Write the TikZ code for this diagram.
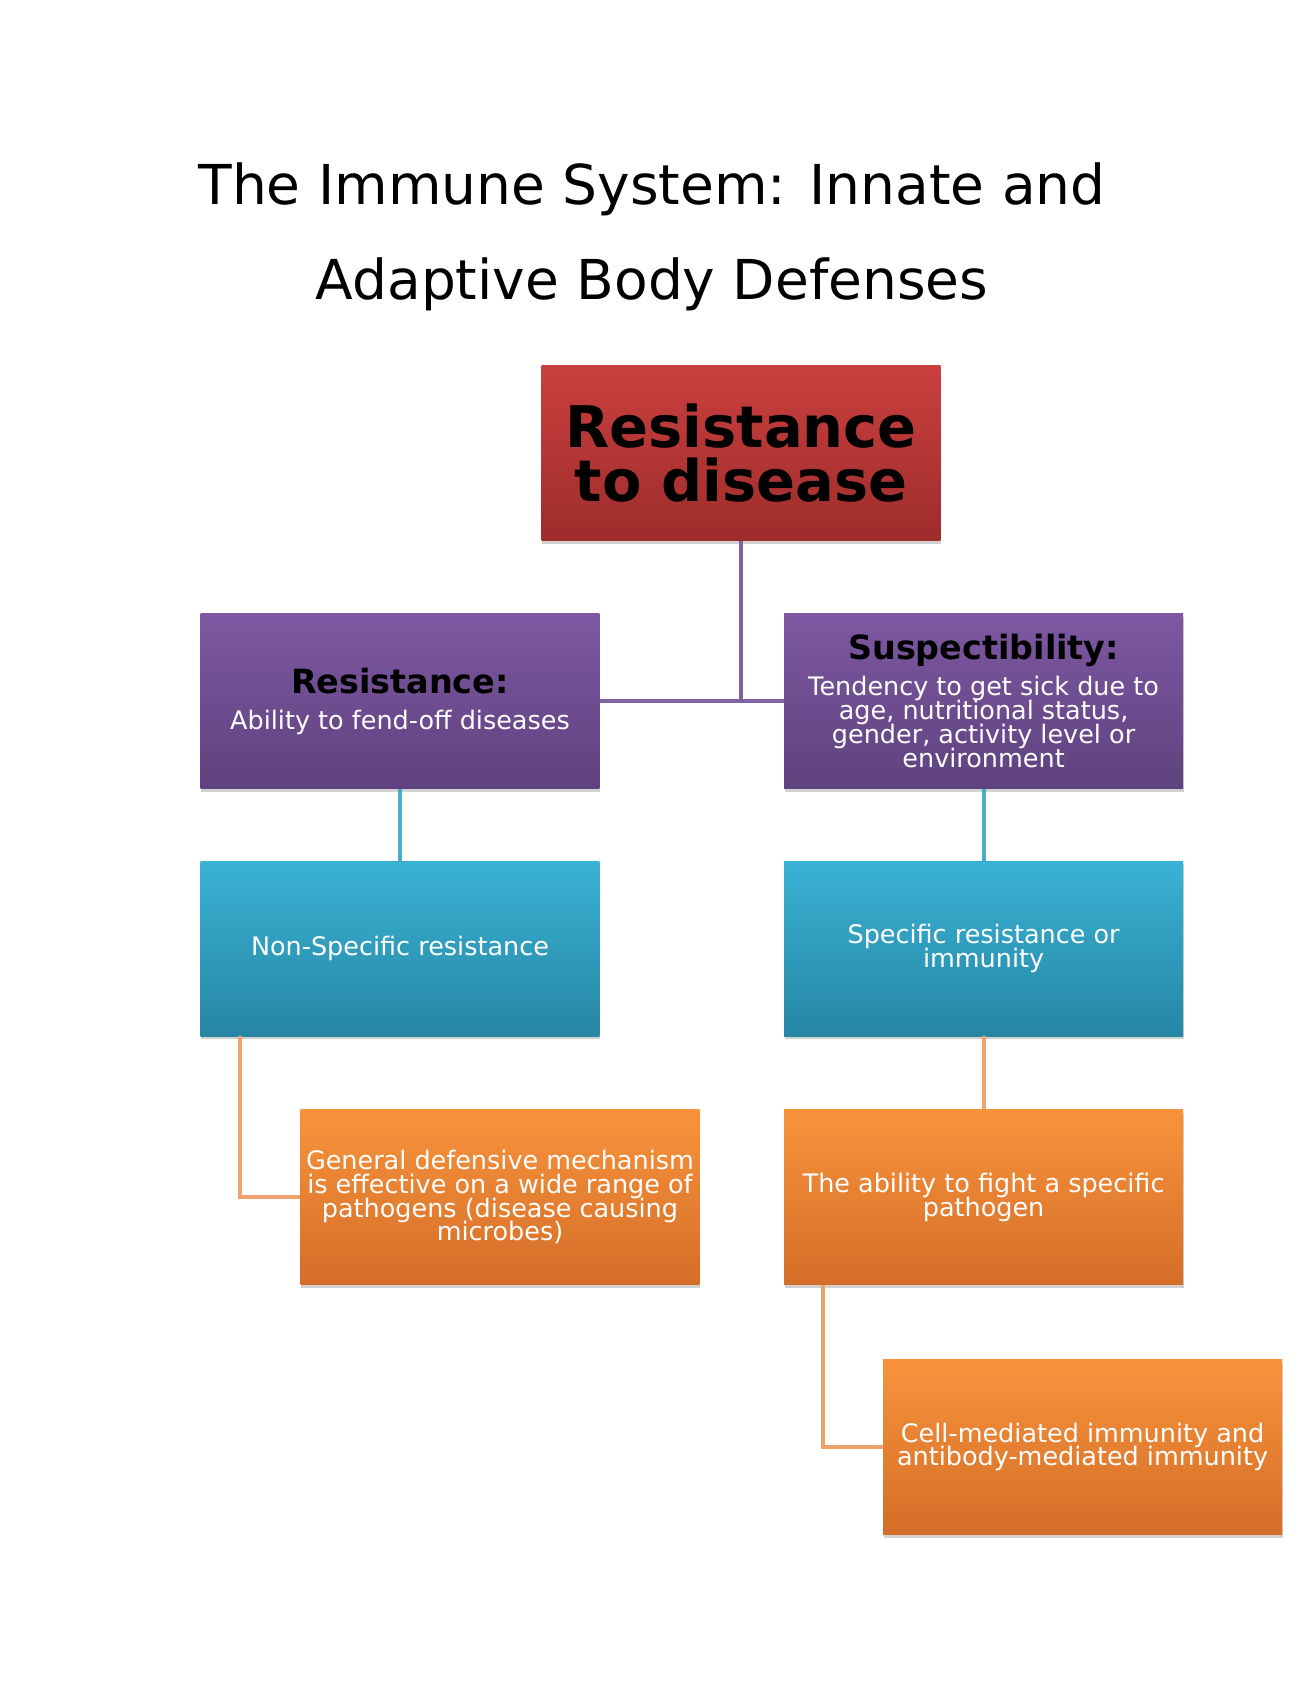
\documentclass[tikz,border=0pt]{standalone}
\usepackage{fontspec}
\setmainfont{DejaVu Sans}
\usepackage{xcolor}
\usetikzlibrary{positioning, shadows}

\definecolor{redtop}{RGB}{202,64,62}
\definecolor{redbot}{RGB}{158,44,44}
\definecolor{purtop}{RGB}{126,88,162}
\definecolor{purbot}{RGB}{94,66,126}
\definecolor{bluetop}{RGB}{58,178,212}
\definecolor{bluebot}{RGB}{38,134,164}
\definecolor{orgtop}{RGB}{248,147,60}
\definecolor{orgbot}{RGB}{212,110,40}
\definecolor{purline}{RGB}{128,100,162}
\definecolor{tealline}{RGB}{75,172,198}
\definecolor{orgline}{RGB}{238,162,110}

\newcommand{\boxhead}[1]{{\color{black}\fontsize{19}{20}\selectfont\bfseries #1}}
\lineskiplimit=-10pt

\begin{document}
\begin{tikzpicture}[
            x=0.02cm, y=-0.02cm,
            box/.style={rectangle, minimum width=7.98cm, minimum height=3.5cm, inner sep=2pt, align=center, text=white,
                font=\fontsize{14.5}{13.5}\selectfont,
                drop shadow={shadow xshift=0.5pt, shadow yshift=-1.8pt, opacity=0.3, fill=black!60}},
            redbox/.style={box, top color=redtop, bottom color=redbot, text=black, font=\fontsize{32.7}{30.5}\selectfont\bfseries},
            purplebox/.style={box, top color=purtop, bottom color=purbot},
            bluebox/.style={box, top color=bluetop, bottom color=bluebot},
            orangebox/.style={box, top color=orgtop, bottom color=orgbot},
            link/.style={line width=2.2pt}
        ]
            \useasboundingbox (0,0) rectangle (1306,1692);

            \node[font=\fontsize{31.3}{54}\selectfont, align=center] (title) at (652,237) {The Immune System: Innate and\\Adaptive Body Defenses};

            \node[redbox] (disease) at (741,453) {Resistance\\to disease};
            \node[purplebox] (resist) at (400,701) {\boxhead{Resistance:}\\[7pt]Ability to fend-off diseases};
            \node[purplebox, right=3.68cm of resist] (suscept) {\boxhead{Suspectibility:}\\[7pt]Tendency to get sick due to\\age, nutritional status,\\gender, activity level or\\environment};
            \node[bluebox, below=1.44cm of resist] (nonspec) {Non-Specific resistance};
            \node[bluebox, below=1.44cm of suscept] (specific) {Specific resistance or\\immunity};
            \node[orangebox, below=1.46cm of nonspec, xshift=2cm] (general) {General defensive mechanism\\is effective on a wide range of\\pathogens (disease causing\\microbes)};
            \node[orangebox, below=1.46cm of specific] (fight) {The ability to fight a specific\\pathogen};
            \node[orangebox, below=1.48cm of fight, xshift=1.98cm] (cellmed) {Cell-mediated immunity and\\antibody-mediated immunity};

            \draw[link, purline] (disease.south) -- (disease.south |- resist.east);
            \draw[link, purline] (resist.east) -- (suscept.west);
            \draw[link, tealline] (resist.south) -- (nonspec.north);
            \draw[link, tealline] (suscept.south) -- (specific.north);
            \draw[link, orgline] ([xshift=0.8cm]nonspec.south west) |- (general.west);
            \draw[link, orgline] (specific.south) -- (fight.north);
            \draw[link, orgline] ([xshift=0.78cm]fight.south west) |- (cellmed.west);
        \end{tikzpicture}
\end{document}
